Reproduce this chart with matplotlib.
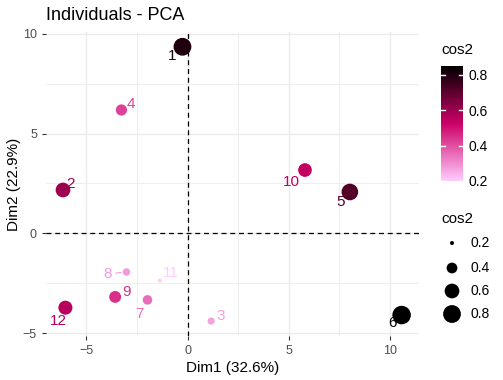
import numpy as np
import matplotlib
matplotlib.use("Agg")
import matplotlib.pyplot as plt
from matplotlib.colors import LinearSegmentedColormap, Normalize

plt.rcParams["font.family"] = ["Liberation Sans", "DejaVu Sans"]

# individuals on the first two dimensions
labels = ["1", "2", "3", "4", "5", "6", "7", "8", "9", "10", "11", "12"]
dim1 = [-0.25, -6.16, 1.17, -3.27, 8.03, 10.59, -1.98, -3.02, -3.58, 5.81, -1.37, -6.04]
dim2 = [9.35, 2.17, -4.40, 6.18, 2.07, -4.10, -3.34, -1.94, -3.19, 3.17, -2.37, -3.73]
cos2 = [0.80, 0.60, 0.27, 0.42, 0.72, 0.85, 0.35, 0.28, 0.45, 0.54, 0.20, 0.56]
legend_vals = [0.2, 0.4, 0.6, 0.8]

# label offsets in pixels (repel-like placement)
offsets = {"1": (-10, -9), "2": (8, 6), "3": (10, 5), "4": (9, 6), "5": (-9, -10),
           "6": (-9, -8), "7": (-8, -14), "8": (-19, -2), "9": (11, 5),
           "10": (-14, -12), "11": (11, 8), "12": (-7, -13)}

cmap = LinearSegmentedColormap.from_list("cos2", ["#FFCCFF", "#CC0066", "#000000"])
vmin, vmax = min(cos2), max(cos2)
norm = Normalize(vmin, vmax)


def size_of(v):
    d = np.sqrt(16 + (np.asarray(v) - vmin) / (vmax - vmin) * (18.5 ** 2 - 16))
    return (d * 0.72) ** 2


fig = plt.figure(figsize=(5.03, 3.8), dpi=100)
ax = fig.add_axes([46 / 503, 44 / 380, 373 / 503, 304 / 380])

ax.set_xlim(-7.0, 11.45)
ax.set_ylim(-5.15, 10.09)
ax.set_xticks([-5, 0, 5, 10])
ax.set_yticks([-5, 0, 5, 10])
ax.set_xticks([-2.5, 2.5, 7.5], minor=True)
ax.set_yticks([-2.5, 2.5, 7.5], minor=True)
ax.grid(True, which="major", color="#EBEBEB", lw=1.0)
ax.grid(True, which="minor", color="#EBEBEB", lw=0.6)
ax.set_axisbelow(True)
for s in ax.spines.values():
    s.set_visible(False)
ax.tick_params(which="major", length=3, color="#333333", labelsize=9, labelcolor="#4D4D4D")
ax.tick_params(which="minor", length=0)

ax.axhline(0, color="black", lw=0.9, ls=(0, (4, 3)), zorder=1)
ax.axvline(0, color="black", lw=0.9, ls=(0, (4, 3)), zorder=1)

colors = cmap(norm(np.array(cos2)))
ax.scatter(dim1, dim2, s=size_of(cos2), c=colors, edgecolors="none", zorder=3)

for lab, x, y, c in zip(labels, dim1, dim2, colors):
    dx, dy = offsets[lab]
    kw = {}
    if lab == "8":
        kw["arrowprops"] = dict(arrowstyle="-", color=c, lw=0.8, shrinkA=1, shrinkB=4)
    ax.annotate(lab, (x, y), xytext=(dx, dy), textcoords="offset pixels",
                ha="center", va="center", fontsize=11, color=c, zorder=4, **kw)

ax.set_xlabel("Dim1 (32.6%)", fontsize=11, labelpad=3)
ax.set_ylabel("Dim2 (22.9%)", fontsize=11, labelpad=1)
fig.text(46 / 503, 1 - 15 / 380, "Individuals - PCA", fontsize=13, ha="left", va="center")

# colour legend
cax = fig.add_axes([441 / 503, 1 - 181 / 380, 22 / 503, 115 / 380])
sm = plt.cm.ScalarMappable(cmap=cmap, norm=norm)
cb = fig.colorbar(sm, cax=cax)
cb.outline.set_visible(False)
cb.set_ticks(legend_vals)
cb.set_ticklabels([str(v) for v in legend_vals])
cax.tick_params(length=0, labelsize=10, colors="black", pad=4)
for v in legend_vals:
    cax.plot([0, 0.2], [v, v], color="white", lw=1, transform=cax.get_yaxis_transform())
    cax.plot([0.8, 1.0], [v, v], color="white", lw=1, transform=cax.get_yaxis_transform())
fig.text(441 / 503, 1 - 50 / 380, "cos2", fontsize=11, ha="left", va="center")

# size legend
lax = fig.add_axes([0, 0, 1, 1], facecolor="none")
lax.set_xlim(0, 503)
lax.set_ylim(380, 0)
lax.axis("off")
ys = [243, 268, 291, 314]
lax.scatter([452] * 4, ys, s=size_of(legend_vals), color="black", edgecolors="none")
for v, y in zip(legend_vals, ys):
    lax.text(471, y, str(v), fontsize=10, ha="left", va="center")
fig.text(441 / 503, 1 - 219 / 380, "cos2", fontsize=11, ha="left", va="center")

fig.savefig("out.png", dpi=100)
